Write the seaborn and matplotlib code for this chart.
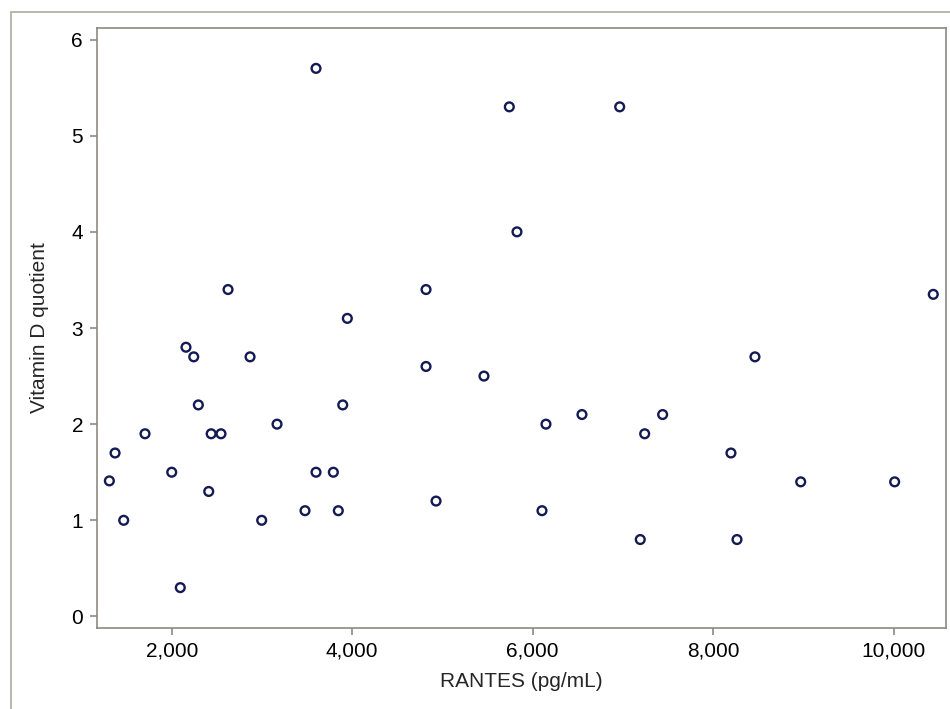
import matplotlib
matplotlib.use("Agg")
import matplotlib.pyplot as plt
import matplotlib.ticker as mticker
from matplotlib.lines import Line2D
import seaborn as sns
import pandas as pd

rantes = [1309, 1372, 1468, 1704, 2000, 2095, 2158, 2244, 2295, 2410, 2437, 2546,
          2624, 2868, 2997, 3167, 3477, 3599, 3599, 3791, 3846, 3895, 3946, 4818,
          4818, 4929, 5460, 5741, 5826, 6103, 6147, 6546, 6964, 7192, 7241, 7440,
          8197, 8264, 8463, 8970, 10011, 10439]
vitd = [1.41, 1.70, 1.00, 1.90, 1.50, 0.30, 2.80, 2.70, 2.20, 1.30, 1.90, 1.90,
        3.40, 2.70, 1.00, 2.00, 1.10, 1.50, 5.70, 1.50, 1.10, 2.20, 3.10, 3.40,
        2.60, 1.20, 2.50, 5.30, 4.00, 1.10, 2.00, 2.10, 5.30, 0.80, 1.90, 2.10,
        1.70, 0.80, 2.70, 1.40, 1.40, 3.35]
x_ticks = [2000, 4000, 6000, 8000, 10000]
y_ticks = [0, 1, 2, 3, 4, 5, 6]
x_label = "RANTES (pg/mL)"
y_label = "Vitamin D quotient"

df = pd.DataFrame({"RANTES": rantes, "VitD": vitd})

sns.set_style("white")
plt.rcParams["font.family"] = ["Liberation Sans", "DejaVu Sans"]

fig = plt.figure(figsize=(9.5, 7.09), dpi=100)
ax = fig.add_axes([97 / 950, 1 - 628 / 709, (946 - 97) / 950, (628 - 28) / 709])

sns.scatterplot(data=df, x="RANTES", y="VitD", ax=ax, s=40, marker="o",
                facecolor="none", edgecolor="#141a52", linewidth=1.7)

ax.set_xlim(1172, 10580)
ax.set_ylim(-0.12, 6.12)
ax.set_xticks(x_ticks)
ax.set_yticks(y_ticks)
ax.xaxis.set_major_formatter(mticker.FuncFormatter(lambda v, p: f"{int(v):,}"))

spine_col = "#8c8a80"
for s in ax.spines.values():
    s.set_color(spine_col)
    s.set_linewidth(1.2)
ax.tick_params(axis="both", which="major", direction="out", length=5, width=1.2,
               color=spine_col, labelsize=15, labelcolor="black", pad=5,
               bottom=True, left=True)
ax.set_xlabel(x_label, fontsize=15, labelpad=8)
ax.set_ylabel(y_label, fontsize=15, labelpad=16)

# outer frame (visible top and left edges)
fig.add_artist(Line2D([11 / 950, 1.0], [1 - 12 / 709, 1 - 12 / 709],
                      transform=fig.transFigure, color="#b8b6ac", linewidth=1.4))
fig.add_artist(Line2D([11 / 950, 11 / 950], [0.0, 1 - 12 / 709],
                      transform=fig.transFigure, color="#b8b6ac", linewidth=1.4))

fig.savefig("out.png", dpi=100)
